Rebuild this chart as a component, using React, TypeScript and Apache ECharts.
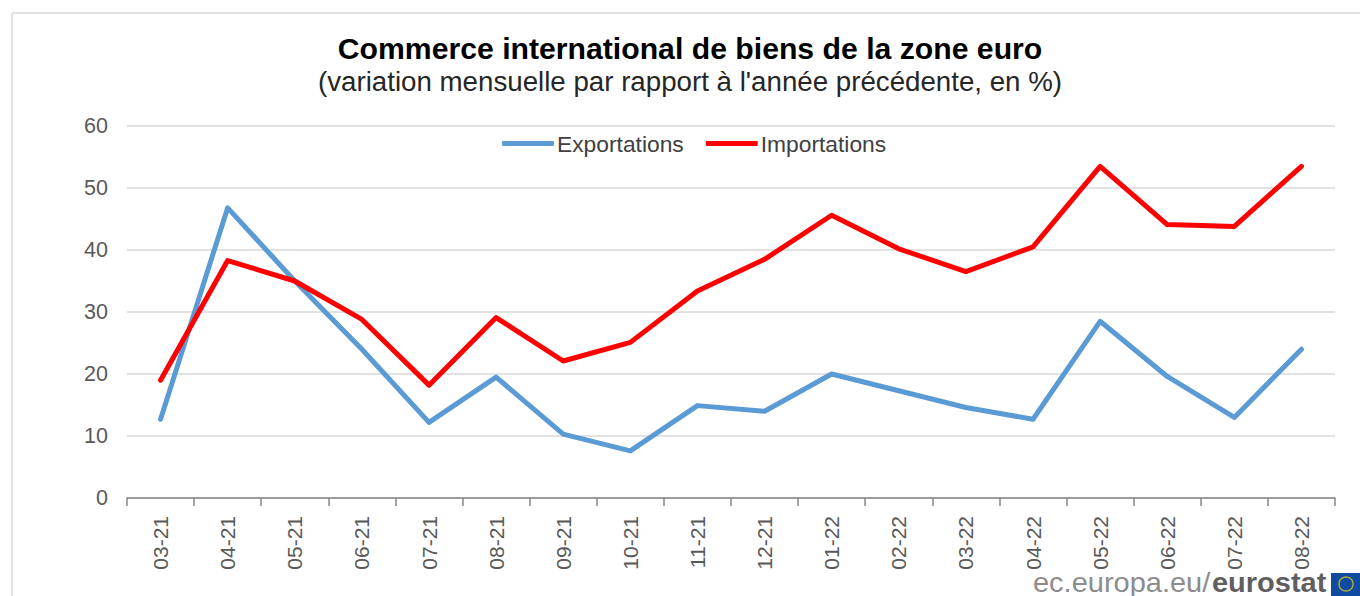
import React, { useEffect, useRef } from "react";
import * as echarts from "echarts";

const categories = ["03-21","04-21","05-21","06-21","07-21","08-21","09-21","10-21","11-21","12-21","01-22","02-22","03-22","04-22","05-22","06-22","07-22","08-22"];
const exportations = [12.7,46.8,35,24,12.2,19.5,10.3,7.6,14.9,14,20,17.3,14.6,12.7,28.5,19.6,13,24];
const importations = [19,38.3,35,28.8,18.2,29.1,22.1,25.1,33.4,38.5,45.6,40.2,36.5,40.5,53.5,44.1,43.8,53.5];
const titleText = "Commerce international de biens de la zone euro";
const subtitleText = "(variation mensuelle par rapport à l'année précédente, en %)";
const FONT = "Liberation Sans";

export default function App() {
  const ref = useRef<HTMLDivElement>(null);
  useEffect(() => {
    const chart = echarts.init(ref.current!, undefined, { renderer: "svg" });
    chart.setOption({
      animation: false,
      backgroundColor: "#ffffff",
      textStyle: { fontFamily: FONT },
      title: {
        text: titleText,
        subtext: subtitleText,
        left: 685,
        top: 28,
        textAlign: "center",
        itemGap: 4,
        textStyle: { fontFamily: FONT, fontSize: 30.2, fontWeight: "bold", color: "#000000" },
        subtextStyle: { fontFamily: FONT, fontSize: 27.7, color: "#262626" },
      },
      legend: {
        top: 127,
        left: 497,
        itemWidth: 52,
        itemHeight: 5,
        itemGap: 22,
        icon: "roundRect",
        textStyle: { fontFamily: FONT, fontSize: 22.8, color: "#404040", padding: [0, 0, 0, -2] },
        data: ["Exportations", "Importations"],
      },
      grid: { left: 127, right: 25, top: 126, bottom: 98 },
      xAxis: {
        type: "category",
        data: categories,
        boundaryGap: true,
        axisLine: { lineStyle: { color: "#868686", width: 1.5 } },
        axisTick: { show: true, length: 8, alignWithLabel: false, lineStyle: { color: "#868686", width: 1.5 } },
        axisLabel: { rotate: 90, color: "#595959", fontSize: 21, margin: 18, fontFamily: FONT },
      },
      yAxis: {
        type: "value",
        min: 0,
        max: 60,
        interval: 10,
        axisLine: { show: false },
        axisTick: { show: false },
        axisLabel: { color: "#595959", fontSize: 21.5, margin: 19, fontFamily: FONT },
        splitLine: { lineStyle: { color: "#d9d9d9", width: 1.5 } },
      },
      series: [
        { name: "Exportations", type: "line", data: exportations, showSymbol: false, symbol: "none", lineStyle: { color: "#5b9bd5", width: 5, cap: "round", join: "round" }, itemStyle: { color: "#5b9bd5" } },
        { name: "Importations", type: "line", data: importations, showSymbol: false, symbol: "none", lineStyle: { color: "#ff0000", width: 5, cap: "round", join: "round" }, itemStyle: { color: "#ff0000" } },
      ],
      graphic: [
        { type: "line", silent: true, shape: { x1: 12, y1: 13, x2: 1360, y2: 13 }, style: { stroke: "#d9d9d9", lineWidth: 1.5 } },
        { type: "line", silent: true, shape: { x1: 12, y1: 13, x2: 12, y2: 596 }, style: { stroke: "#d9d9d9", lineWidth: 1.5 } },
        { type: "text", x: 1033, y: 569, scaleX: 1.074, style: { text: "ec.europa.eu/", font: `27px ${FONT}`, fill: "#8c8c8c" } },
        { type: "text", x: 1212, y: 569, scaleX: 1.074, style: { text: "eurostat", font: `bold 27px ${FONT}`, fill: "#5f5f5f" } },
        { type: "rect", shape: { x: 1331, y: 573, width: 29, height: 23 }, style: { fill: "#0f4ba0" } },
        { type: "circle", shape: { cx: 1346, cy: 584, r: 7 }, style: { fill: "none", stroke: "#a8a838", lineWidth: 1.5 } },
      ],
    });
    return () => chart.dispose();
  }, []);
  return <div ref={ref} style={{ position: "fixed", left: 0, top: 0, width: 1360, height: 596 }} />;
}
